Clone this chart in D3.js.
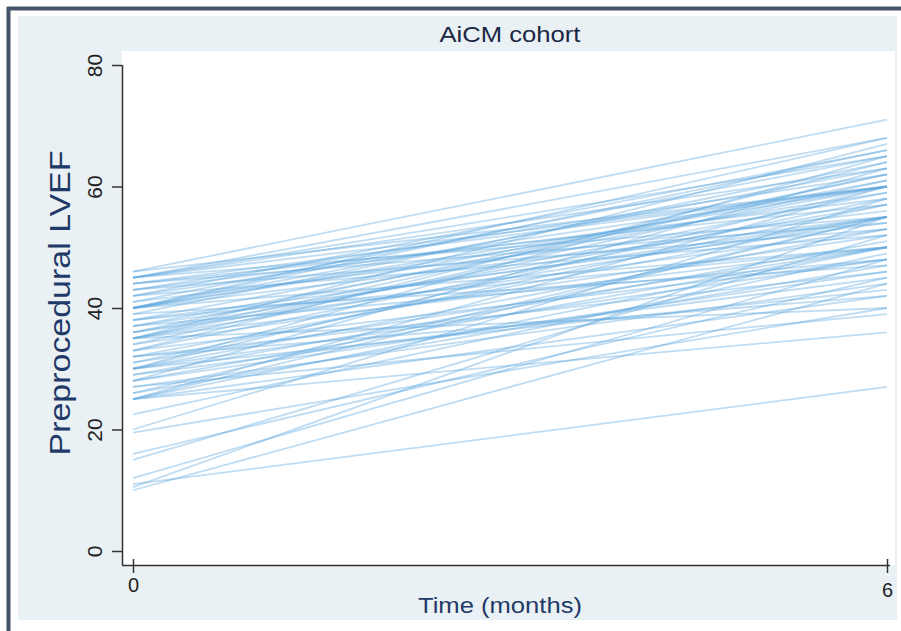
<!DOCTYPE html>
<html><head><meta charset="utf-8">
<script src="https://cdn.jsdelivr.net/npm/d3@7"></script>
<style>body{margin:0;background:#fff}svg{display:block}</style>
</head><body>
<svg id="c" width="901" height="631"></svg>
<script>
const title = "AiCM cohort";
const yLabel = "Preprocedural LVEF";
const xLabel = "Time (months)";
const times = [0, 6];
const xTicks = [0, 6];
const yTicks = [0, 20, 40, 60, 80];
// Preprocedural LVEF at time 0 and at 6 months, one entry per patient
const lvef0 = [11,10,10.5,12,15,16,19.5,20,22.5,
  25,25,25,25,26,27,28,28,29,30,30,30,30,31,32,32,33,34,35,35,35,35,35,36,37,37,38,39,
  40,40,40,40,40,40,41,42,42,43,44,45,45,45,45,45,46,27,33,38,43,36,29,
  32,34,37,39,41,44,26,31,28,43,36,38,42,30,33,44,40,35,25,46];
const lvef6 = [27,44,55,48,52,45,40,58,49,
  36,42,55,60,47,39,50,63,45,43,53,60,65,50,55,46,58,52,40,50,55,62,67,57,48,60,54,64,
  50,55,59,60,66,68,56,60,52,62,57,55,60,63,65,68,71,44,48,61,58,53,51,
  42,61,55,47,65,60,55,57,46,53,62,50,66,48,64,54,63,59,50,60];

const font = "Liberation Sans, Arial, sans-serif";
const svg = d3.select("#c");
svg.append("rect").attr("x",0).attr("y",0).attr("width",901).attr("height",631).attr("fill","#fff");
svg.append("rect").attr("x",18).attr("y",16).attr("width",879).attr("height",604).attr("fill","#eaf1f4");
svg.append("line").attr("x1",8.5).attr("x2",8.5).attr("y1",7).attr("y2",631).attr("stroke","#46536a").attr("stroke-width",4);
svg.append("line").attr("x1",7).attr("x2",901).attr("y1",8.5).attr("y2",8.5).attr("stroke","#46536a").attr("stroke-width",4);
svg.append("rect").attr("x",122).attr("y",51).attr("width",773).attr("height",514).attr("fill","#fff");

const x = d3.scaleLinear().domain([0,6]).range([133,887]);
const y = d3.scaleLinear().domain([0,80]).range([551,65]);

const line = d3.line().x(d=>x(d[0])).y(d=>y(d[1]));
const data = lvef0.map((v,i)=>[[times[0],v],[times[1],lvef6[i]]]);
svg.append("g").selectAll("path").data(data).join("path")
  .attr("d", line).attr("fill","none")
  .attr("stroke","#5ea8de").attr("stroke-opacity",0.4).attr("stroke-width",1.8);

const yAxis = svg.append("g").attr("transform","translate(122,0)")
  .call(d3.axisLeft(y).tickValues(yTicks).tickSize(10).tickSizeOuter(0));
yAxis.select(".domain").attr("d","M0.5,65V565").attr("stroke","#333").attr("stroke-width",1.5);
yAxis.selectAll(".tick line").attr("stroke","#333").attr("stroke-width",1.5);
yAxis.selectAll(".tick text").attr("x",0).attr("y",0).attr("dy",0).attr("dx",0)
  .attr("text-anchor","middle")
  .attr("transform","translate(-20,0) rotate(-90)")
  .style("font-family",font).style("font-size","21px").attr("fill","#222");

const xAxis = svg.append("g").attr("transform","translate(0,565)")
  .call(d3.axisBottom(x).tickValues(xTicks).tickFormat(d3.format("d")).tickSize(8).tickSizeOuter(0));
xAxis.select(".domain").attr("d","M122,0.5H890").attr("stroke","#333").attr("stroke-width",1.5);
xAxis.selectAll(".tick line").attr("y1",-6).attr("y2",8).attr("stroke","#333").attr("stroke-width",1.5);
xAxis.selectAll(".tick text").attr("y",13).attr("dy","0.71em")
  .style("font-family",font).style("font-size","20px").attr("fill","#222");
xAxis.selectAll(".tick text").filter(d=>d===6).attr("y",18);

const navy = "#1f3a68";
svg.append("text").attr("x",510).attr("y",42).attr("text-anchor","middle")
  .attr("textLength",141).attr("lengthAdjust","spacingAndGlyphs")
  .style("font-family",font).style("font-size","22px").attr("fill","#1a2744").text(title);
svg.append("text").attr("transform","translate(70,303) rotate(-90)").attr("text-anchor","middle")
  .attr("textLength",305).attr("lengthAdjust","spacingAndGlyphs")
  .style("font-family",font).style("font-size","30px").attr("fill",navy).text(yLabel);
svg.append("text").attr("x",500).attr("y",613).attr("text-anchor","middle")
  .attr("textLength",164).attr("lengthAdjust","spacingAndGlyphs")
  .style("font-family",font).style("font-size","22px").attr("fill",navy).text(xLabel);
</script>
</body></html>
